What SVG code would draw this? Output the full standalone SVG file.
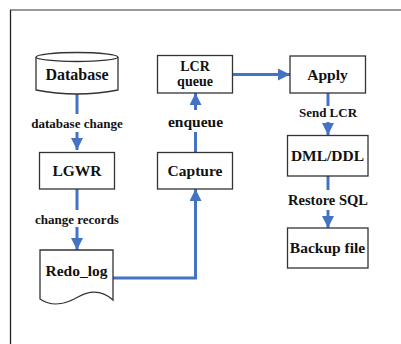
<svg xmlns="http://www.w3.org/2000/svg" width="401" height="344" viewBox="0 0 401 344">
  <defs>
    <marker id="arrow" viewBox="0 0 12 12" refX="12" refY="6" markerWidth="12" markerHeight="12" markerUnits="userSpaceOnUse" orient="auto">
      <path d="M0,0 L12,6 L0,12 Z" fill="#4472C4"/>
    </marker>
    <style>
      .box { fill: #fff; stroke: #333; stroke-width: 1.3; }
      .node { font-family: "Liberation Serif", "Times New Roman", serif; font-weight: bold; font-size: 15.5px; fill: #111; text-anchor: middle; }
      .lbl { font-family: "Liberation Serif", "Times New Roman", serif; font-weight: bold; font-size: 13px; fill: #111; text-anchor: middle; }
      .wire { fill: none; stroke: #4472C4; stroke-width: 3; }
      .gap { fill: #fff; }
    </style>
  </defs>
  <rect width="401" height="344" fill="#fff"/>

  <!-- outer frame (open to the right and bottom) -->
  <line x1="10" y1="10" x2="401" y2="10" stroke="#777" stroke-width="1.5"/>
  <line x1="10.5" y1="10" x2="10.5" y2="344" stroke="#222" stroke-width="1.3"/>

  <!-- connectors -->
  <g id="connectors">
    <path class="wire" d="M77,94 V150" marker-end="url(#arrow)"/>
    <path class="wire" d="M77,189 V250" marker-end="url(#arrow)"/>
    <path class="wire" d="M113,278 H195.5 V189" marker-end="url(#arrow)"/>
    <path class="wire" d="M195.5,152 V93" marker-end="url(#arrow)"/>
    <path class="wire" d="M232,74.5 H290" marker-end="url(#arrow)"/>
    <path class="wire" d="M328,93 V135" marker-end="url(#arrow)"/>
    <path class="wire" d="M328,176 V228" marker-end="url(#arrow)"/>

    <!-- connector labels -->
    <g id="lbl-dbchange">
      <rect class="gap" x="30" y="114" width="94" height="18"/>
      <text class="lbl" x="77" y="128">database change</text>
    </g>
    <g id="lbl-changerec">
      <rect class="gap" x="33" y="210" width="88" height="17"/>
      <text class="lbl" x="77" y="224">change records</text>
    </g>
    <g id="lbl-enqueue">
      <rect class="gap" x="166" y="110" width="59" height="22"/>
      <text class="node" x="195.5" y="127">enqueue</text>
    </g>
    <g id="lbl-sendlcr">
      <rect class="gap" x="296" y="106" width="63" height="16"/>
      <text class="lbl" x="328" y="117">Send LCR</text>
    </g>
    <g id="lbl-restore">
      <rect class="gap" x="285" y="190" width="86" height="20"/>
      <text class="lbl" x="328" y="205" style="font-size:14.5px">Restore SQL</text>
    </g>
  </g>

  <!-- nodes -->
  <g id="database">
    <path class="box" d="M36,57 V90 Q77,98 118,90 V57"/>
    <ellipse class="box" cx="77" cy="57" rx="41" ry="4.5"/>
    <text class="node" x="77" y="80" style="font-size:16px">Database</text>
  </g>

  <g id="lgwr">
    <rect class="box" x="39.5" y="152.5" width="75" height="36.5"/>
    <text class="node" x="77" y="176">LGWR</text>
  </g>

  <g id="redo-log">
    <path class="box" d="M40,250 H113 V300 C103,291 92,289 78,297 C64,305 52,307 40,299 Z"/>
    <text class="node" x="76.5" y="276">Redo_log</text>
  </g>

  <g id="capture">
    <rect class="box" x="157.5" y="152.5" width="75" height="36.5"/>
    <text class="node" x="195" y="176">Capture</text>
  </g>

  <g id="lcr-queue">
    <rect class="box" x="157.5" y="55.5" width="75" height="37.5"/>
    <text class="node" x="195" y="70.5" style="font-size:14px">LCR</text>
    <text class="node" x="195" y="85.5" style="font-size:14px">queue</text>
  </g>

  <g id="apply">
    <rect class="box" x="290" y="56" width="75.5" height="37"/>
    <text class="node" x="327.5" y="79.5">Apply</text>
  </g>

  <g id="dml-ddl">
    <rect class="box" x="287.5" y="135.5" width="80.5" height="40.5"/>
    <text class="node" x="327.5" y="160.5">DML/DDL</text>
  </g>

  <g id="backup-file">
    <rect class="box" x="287.5" y="228" width="80.5" height="40"/>
    <text class="node" x="327.5" y="253">Backup file</text>
  </g>
</svg>
